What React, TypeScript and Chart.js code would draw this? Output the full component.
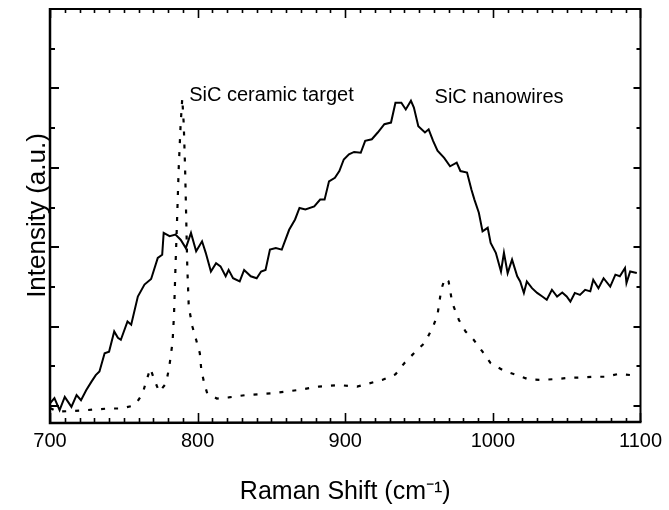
import React, { useEffect, useRef } from 'react';
import { Chart, registerables } from 'chart.js';

Chart.register(...registerables);

// ---- data (Raman shift in cm^-1, intensity in arbitrary units) ----
const nanowireShift = [
  700, 703, 706.5, 710, 714.5, 718, 721, 724.5, 728, 731, 733.5, 737, 740, 743.5, 746, 748,
  752.5, 755, 759.5, 764, 768.5, 773, 776, 777, 781, 785, 788.5, 792, 795.5, 799, 803, 805.5,
  809, 812.5, 815.5, 819, 821, 824, 828.5, 831.5, 836, 840, 843, 846, 849, 853, 857, 862,
  866, 869, 873, 879, 883, 886, 889, 893, 896, 899, 902.5, 906, 910.5, 913.5, 918, 922,
  926.5, 931, 934, 938, 941, 944.5, 946.5, 949.5, 954, 956.5, 959.5, 962.5, 967, 971, 975.5,
  978, 982.5, 985.5, 987.5, 990.5, 993, 996.5, 998.5, 1002, 1005.5, 1007.5, 1010, 1013,
  1016.5, 1018.5, 1021, 1023, 1026.5, 1030, 1033.5, 1036.5, 1040, 1043.5, 1047, 1050,
  1052.5, 1055.5, 1059, 1062.5, 1066, 1068, 1071.5, 1075, 1079.5, 1083, 1086, 1089.5,
  1090.5, 1093, 1097.5,
];
const nanowireIntensity = [
  0.07, 0.2, -0.1, 0.23, -0.02, 0.28, 0.15, 0.4, 0.61, 0.78, 0.87, 1.33, 1.37, 1.88, 1.72, 1.67,
  2.13, 2.05, 2.76, 3.06, 3.2, 3.73, 3.81, 4.36, 4.28, 4.32, 4.19, 3.98, 4.36, 3.9, 4.15, 3.86,
  3.39, 3.6, 3.52, 3.27, 3.43, 3.22, 3.14, 3.43, 3.27, 3.22, 3.39, 3.43, 3.94, 3.98, 3.94, 4.44,
  4.7, 4.99, 4.95, 5.03, 5.2, 5.2, 5.66, 5.75, 5.92, 6.21, 6.34, 6.4, 6.38, 6.68, 6.72, 6.89,
  7.1, 7.14, 7.64, 7.64, 7.47, 7.69, 7.52, 7.05, 6.89, 6.97, 6.68, 6.43, 6.25, 6.04, 6.13,
  5.92, 5.88, 5.45, 5.2, 4.87, 4.4, 4.49, 4.11, 3.86, 3.39, 3.86, 3.35, 3.69,
  3.27, 3.14, 2.85, 3.14, 2.97, 2.85, 2.76, 2.68, 2.93, 2.76, 2.86, 2.76,
  2.63, 2.85, 2.8, 2.93, 2.89, 3.18, 2.97, 3.22, 3.01, 3.31, 3.27, 3.48,
  3.1, 3.39, 3.35,
];

const ceramicShift = [
  700, 705, 716, 725, 732, 740, 748, 755, 758.4, 762.8, 765, 768, 770.7, 774, 778.6, 780.8,
  782, 783, 784, 785, 786, 787.2, 788.5, 789.6, 790.6, 791.5, 792, 793, 794, 796.5, 799,
  801.5, 802.5, 804.5, 806.5, 813, 821, 833, 850, 867, 882, 896, 908, 916, 925, 934, 940,
  947, 954, 959.5, 962.5, 965, 967.5, 970, 972.5, 977, 981.5, 987, 993, 998.5, 1007.5,
  1016.5, 1024.5, 1033.5, 1042, 1051, 1059, 1068, 1077, 1085, 1094, 1097,
];
const ceramicIntensity = [
  -0.05, -0.14, -0.12, -0.1, -0.08, -0.06, -0.06, 0.0, 0.07, 0.32, 0.61, 0.95, 0.66, 0.36, 0.57, 0.99,
  1.33, 1.6, 2.3, 3.5, 4.6, 6.0, 7.1, 7.75, 7.1, 6.0, 5.2, 3.5, 2.5, 2.0, 1.67,
  1.33, 0.91, 0.57, 0.32, 0.19, 0.22, 0.28, 0.32, 0.4, 0.49, 0.53, 0.49, 0.57, 0.66, 0.8, 1.08,
  1.35, 1.6, 2.0, 2.3, 2.93, 3.22, 3.14, 2.6, 2.17, 1.88, 1.67, 1.37, 1.08, 0.89,
  0.78, 0.67, 0.66, 0.68, 0.71, 0.72, 0.74, 0.74, 0.81, 0.78, 0.74,
];

const xTickValues = [700, 800, 900, 1000, 1100];
const xTickLabels = ['700', '800', '900', '1000', '1100'];
const yTickValues = [0, 1, 2, 3, 4, 5, 6, 7, 8, 9];

const annotationTexts = ['SiC ceramic target', 'SiC nanowires'];
const annotationShift = [794.3, 960.5];
const annotationIntensity = [7.83, 7.78];

const X_MIN = 700;
const X_MAX = 1100;
const X_MINOR_STEP = 10;
const Y_MIN = -0.4;
const Y_MAX = 10;

const FONT = '"Liberation Sans", Arial, Helvetica, sans-serif';

const frameAndTicks = {
  id: 'frameAndTicks',
  afterDatasetsDraw(chart: any) {
    const { ctx, chartArea: a, scales } = chart;
    const xs = scales.x;
    const ys = scales.y;
    ctx.save();
    ctx.strokeStyle = '#000';
    ctx.lineCap = 'butt';

    // x ticks, bottom and top, pointing inward
    ctx.lineWidth = 1.6;
    for (let v = X_MIN; v <= X_MAX + 0.001; v += X_MINOR_STEP) {
      const px = Math.round(xs.getPixelForValue(v)) + 0.5;
      const major = xTickValues.includes(v);
      const len = major ? 9 : 4;
      ctx.beginPath();
      ctx.moveTo(px, a.bottom);
      ctx.lineTo(px, a.bottom - len);
      ctx.moveTo(px, a.top);
      ctx.lineTo(px, a.top + len);
      ctx.stroke();
    }
    // y ticks, left and right
    ctx.lineWidth = 2;
    yTickValues.forEach((v) => {
      const py = Math.round(ys.getPixelForValue(v));
      const major = v % 2 === 0;
      const lenL = major ? 9 : 5;
      const lenR = major ? 7 : 4;
      ctx.beginPath();
      ctx.moveTo(a.left, py);
      ctx.lineTo(a.left + lenL, py);
      ctx.moveTo(a.right, py);
      ctx.lineTo(a.right - lenR, py);
      ctx.stroke();
    });

    // frame
    ctx.lineWidth = 2.5;
    ctx.beginPath();
    ctx.moveTo(a.left, a.top - 1);
    ctx.lineTo(a.left, a.bottom + 1);
    ctx.lineTo(a.right + 1, a.bottom);
    ctx.stroke();
    ctx.lineWidth = 2;
    ctx.beginPath();
    ctx.moveTo(a.left, a.top);
    ctx.lineTo(a.right, a.top);
    ctx.lineTo(a.right, a.bottom);
    ctx.stroke();

    // annotations
    ctx.fillStyle = '#000';
    ctx.font = `20px ${FONT}`;
    ctx.textAlign = 'left';
    ctx.textBaseline = 'middle';
    annotationTexts.forEach((t, i) => {
      ctx.fillText(t, xs.getPixelForValue(annotationShift[i]), ys.getPixelForValue(annotationIntensity[i]));
    });
    ctx.restore();
  },
};

export default function App() {
  const canvasRef = useRef<HTMLCanvasElement | null>(null);

  useEffect(() => {
    const canvas = canvasRef.current;
    if (!canvas) return;
    const chart = new Chart(canvas, {
      type: 'line',
      data: {
        datasets: [
          {
            label: 'SiC nanowires',
            data: nanowireShift.map((x, i) => ({ x, y: nanowireIntensity[i] })),
            borderColor: '#000',
            borderWidth: 2,
            pointRadius: 0,
            tension: 0,
            fill: false,
          },
          {
            label: 'SiC ceramic target',
            data: ceramicShift.map((x, i) => ({ x, y: ceramicIntensity[i] })),
            borderColor: '#000',
            borderWidth: 2.2,
            borderDash: [4, 9],
            pointRadius: 0,
            tension: 0,
            fill: false,
          },
        ],
      },
      options: {
        responsive: false,
        animation: false,
        devicePixelRatio: 1,
        layout: { padding: { top: 9, right: 25, left: 0, bottom: 0 } },
        plugins: {
          legend: { display: false },
          tooltip: { enabled: false },
        },
        scales: {
          x: {
            type: 'linear',
            position: 'bottom',
            min: X_MIN,
            max: X_MAX,
            afterFit: (s: any) => {
              s.height = 88;
            },
            afterBuildTicks: (s: any) => {
              s.ticks = xTickValues.map((v) => ({ value: v }));
            },
            grid: { display: false, drawTicks: false },
            border: { display: false },
            ticks: {
              color: '#000',
              font: { family: FONT, size: 20 },
              padding: 7,
              maxRotation: 0,
              autoSkip: false,
              callback: (_v: any, i: number) => xTickLabels[i],
            },
            title: {
              display: true,
              text: 'Raman Shift (cm⁻¹)',
              color: '#000',
              font: { family: FONT, size: 25 },
              padding: { top: 0, bottom: 3 },
            },
          },
          y: {
            type: 'linear',
            min: Y_MIN,
            max: Y_MAX,
            afterFit: (s: any) => {
              s.width = 50;
            },
            grid: { display: false, drawTicks: false },
            border: { display: false },
            ticks: { display: false },
            title: {
              display: true,
              text: 'Intensity (a.u.)',
              color: '#000',
              font: { family: FONT, size: 26 },
              padding: { top: 22, bottom: 0 },
            },
          },
        },
      },
      plugins: [frameAndTicks],
    });
    return () => chart.destroy();
  }, []);

  return (
    <div style={{ position: 'absolute', left: 0, top: 0, width: 669, height: 510, background: '#fff' }}>
      <canvas ref={canvasRef} width={669} height={510} style={{ display: 'block' }} />
    </div>
  );
}
